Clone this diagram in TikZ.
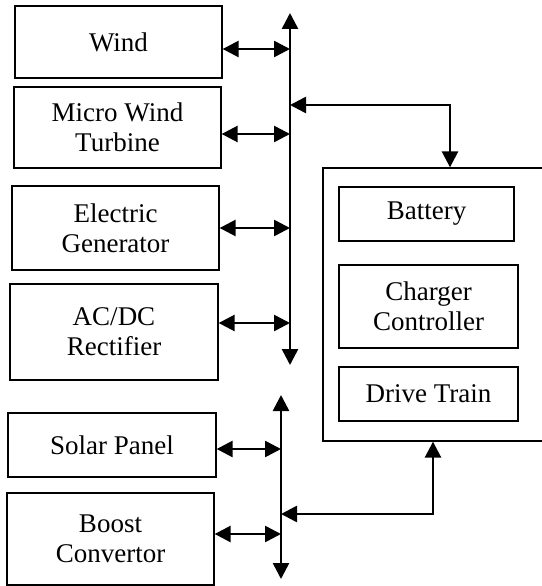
\documentclass[tikz,border=0pt]{standalone}
\usepackage{fontspec}
\setmainfont{Liberation Serif}
\usetikzlibrary{arrows.meta,positioning}

\begin{document}
\begin{tikzpicture}[x=1pt,y=-1pt,
    block/.style={draw,line width=1.3pt,minimum width=207pt,inner sep=0pt,
                  align=center,font=\fontsize{27}{30}\selectfont},
    inblock/.style={block,minimum width=179pt},
    bus/.style={line width=2.6pt,{Triangle[length=16pt,width=16pt]}-{Triangle[length=16pt,width=16pt]}}]
    \useasboundingbox (0,0) rectangle (541,586);
    % sources
    \node[block,minimum height=72pt] (wind) at (118.5,42) {Wind};
    \node[block,minimum height=81pt] (turbine) at (117.5,127.5) {Micro Wind\\Turbine};
    \node[block,minimum height=84pt] (generator) at (115.5,228) {Electric\\Generator};
    \node[block,minimum height=96pt,minimum width=208pt] (rectifier) at (114,332) {AC/DC\\Rectifier};
    \node[block,minimum height=64pt,minimum width=208pt] (solar) at (112,445) {Solar Panel};
    \node[block,minimum height=92pt] (boost) at (110.5,539) {Boost\\Convertor};
    % vehicle side
    \node[draw,line width=1.3pt,minimum width=254pt,minimum height=273pt] (vehicle) at (450,304.5) {};
    \node[inblock,minimum width=175pt,minimum height=54pt] (battery) at (426.5,214) {Battery};
    \node[inblock,minimum height=83pt] (charger) at (428.5,306.5) {Charger\\Controller};
    \node[inblock,minimum height=54pt] (drive) at (428.5,394) {Drive Train};
    % buses
    \coordinate (atop) at (290,13);
    \coordinate (abot) at (290,365);
    \coordinate (btop) at (281,395);
    \coordinate (bbot) at (281,579);
    \draw[bus] (abot) -- (atop);
    \draw[bus] (bbot) -- (btop);
    \foreach \n/\d in {wind/-7,turbine/-6.5,generator/0,rectifier/9}{
        \path ([yshift=\d pt]\n.east) coordinate (p);
        \draw[bus] (p) -- (p -| atop);
    }
    \foreach \n/\d in {solar/-4,boost/5}{
        \path ([yshift=\d pt]\n.east) coordinate (p);
        \draw[bus] (p) -- (p -| btop);
    }
    % links to vehicle
    \coordinate (ja) at (290,105);
    \coordinate (jb) at (281,514);
    \draw[bus] (ja) -| (vehicle.north);
    \draw[bus] (jb) -| ([xshift=-17pt]vehicle.south);
\end{tikzpicture}
\end{document}
